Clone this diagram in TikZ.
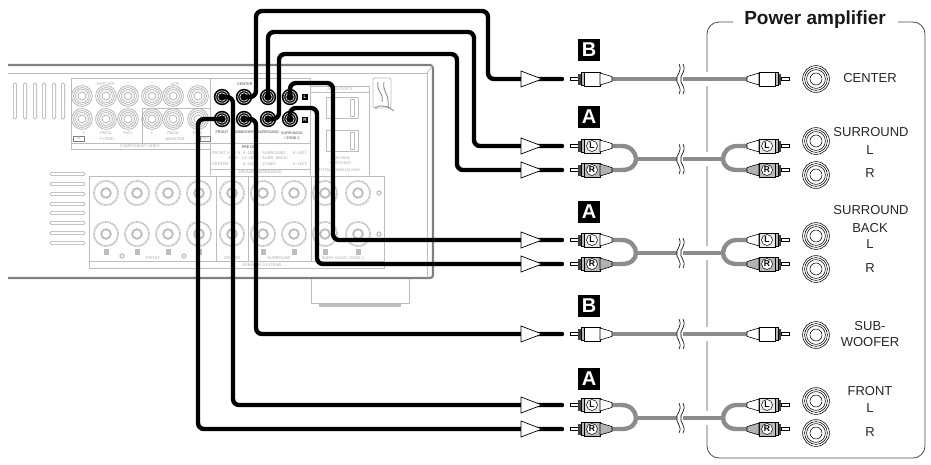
\documentclass[tikz,border=0pt]{standalone}
\usepackage{fontspec}
\usetikzlibrary{calc}
\setmainfont{Liberation Sans}
\definecolor{pl}{gray}{0.74}
\definecolor{pd}{gray}{0.5}
\definecolor{ptxt}{gray}{0.66}
\definecolor{cab}{gray}{0.55}
\tikzset{
 x=1pt,y=-1pt,
 panel/.style={draw=pl,line width=0.8pt},
 heavy/.style={draw=pd,line width=2.2pt},
 slot/.style={draw=pd!70,line width=0.6pt,rounded corners=1.4pt},
 wire/.style={draw=black,line width=4.4pt,rounded corners=6pt,line cap=round},
 cable/.style={draw=cab,line width=4.4pt},
 tiny/.style={text=ptxt,font=\fontsize{4}{5}\selectfont,inner sep=0pt,align=center},
 dark/.style={text=black!75,font=\fontsize{3.7}{4.6}\selectfont,inner sep=0pt,align=center},
 badge/.style={fill=black,text=white,font=\fontsize{20}{20}\selectfont\bfseries,minimum width=22pt,minimum height=22pt,inner sep=0pt},
 lab/.style={font=\fontsize{13}{14}\selectfont,inner sep=0pt,text=black!85},
 circ/.style={circle,draw=black,fill=white,line width=0.5pt,inner sep=0pt,minimum size=11pt,font=\fontsize{8.5}{8.5}\selectfont\bfseries},
 pics/rca/.style 2 args={code={
   \draw[black,line width=.6pt,fill=white] (0,-1.6) rectangle (8,1.6);
   \fill[black!75] (8,-5.5) rectangle (11,5.5);
   \draw[black,line width=.6pt,fill=gray!55] (11,-6.5) rectangle (14,6.5);
   \draw[black,line width=.6pt,fill=#1] (14,-7) rectangle (30,7);
   \draw[black,line width=.6pt,fill=#2] (30,-6) -- (42,-2.4) -- (42,2.4) -- (30,6) -- cycle;
 }},
 pics/brk/.style={code={
   \fill[white] (-3,-9) rectangle (3,9);
   \draw[black,line width=.6pt] (-1,-15) .. controls (3,-7) and (-5,-3) .. (-3,0) .. controls (-5,4) and (3,8) .. (-1,15);
   \draw[black,line width=.6pt] (3,-15) .. controls (7,-7) and (-1,-3) .. (1,0) .. controls (-1,4) and (7,8) .. (3,15);
 }},
}
\newcommand{\ampjack}[2]{\foreach \r in {13.4,11.4,9.4,6}{\draw[black,line width=.55pt] (#1,#2) circle (\r);}}
\newcommand{\vidjack}[2]{\foreach \r in {10.4,8.4,6.4,4}{\draw[gray!62,line width=.75pt] (#1,#2) circle (\r);}}
\newcommand{\spkjack}[2]{\draw[pl,line width=1.3pt,densely dotted] (#1,#2) circle (12.5);\draw[pl,line width=.5pt] (#1,#2) circle (11.6);\draw[pl,line width=1.9pt] (#1,#2) circle (4.8);}
\begin{document}
\begin{tikzpicture}
\useasboundingbox (0,0) rectangle (931,464);
% ---- rear panel
\draw[heavy,rounded corners=3pt] (8,278) -- (433,278) -- (433,65) -- (8,65);
\draw[panel] (8,73) -- (427,73) -- (427,278);
\draw[panel] (427,73) -- (433,65);
\foreach \x in {15,25,35,44,54,63}{\draw[slot] (\x-1.7,83) rectangle (\x+1.7,119);}
\foreach \y in {174,184,194,204,213,223,233,243}{\draw[slot] (50,\y-1.6) rectangle (85,\y+1.6);}
% component video
\draw[panel] (71,78) -- (310,78) -- (310,175);
\draw[panel] (71,78) -- (71,149) -- (210,149);
\draw[panel] (71,143) -- (210,143);
\draw[panel] (210,78) -- (210,175);
\draw[panel] (142,143) -- (142,108) -- (210,108);
\foreach \x in {82,106,128,152,173,198}{\vidjack{\x}{96}\vidjack{\x}{119}}
\node[tiny] (t1) at (106,84) {DVD VDP};
\node[tiny] (t2) at (175,84) {VCR};
\node[tiny] (t3) at (84,133) {Y};
\node[tiny] (t4) at (106,133) {Pb/Cb};
\node[tiny] (t5) at (128,133) {Pr/Cr};
\node[tiny] (t6) at (152,133) {Y};
\node[tiny] (t7) at (173,133) {Pb/Cb};
\node[tiny] (t8) at (198,133) {Pr/Cr};
\node[tiny] (t9) at (107,139) {TV/DVD};
\node[tiny] (t10) at (175,139) {MONITOR};
\node[tiny] (t11) at (140,146) {COMPONENT VIDEO};
\draw[pd,line width=.6pt] (73,136) rectangle (84,141);
\node[tiny] (t12) at (78.5,138.5) {IN};
\draw[pd,line width=.6pt] (200,136) rectangle (210,141);
\node[tiny] (t13) at (205,138.5) {OUT};
% preout text
\draw[panel] (210,143) -- (310,143);
\draw[panel] (210,169) -- (310,169);
\node[dark] (t14) at (250,147) {PRE OUT};
\node[tiny,anchor=west] (t15) at (212,153) {FRONT A OR B};
\node[tiny,anchor=west] (t16) at (228,158) {A + B};
\node[tiny,anchor=west] (t17) at (212,164) {CENTER};
\foreach \y/\v in {153/6\textasciitilde 16,158/12\textasciitilde 16,164/6\textasciitilde 16}{\node[tiny] at (250,\y) {\v$\Omega$};}
\node[tiny,anchor=west] (t18) at (262,153) {SURROUND};
\node[tiny,anchor=west] (t19) at (262,158) {SURR. BACK/};
\node[tiny,anchor=west] (t20) at (262,164) {ZONE2};
\foreach \y in {153,164}{\node[tiny] at (300,\y) {6\textasciitilde 16$\Omega$};}
\node[tiny] (t21) at (260,172.5) {SPEAKER IMPEDANCE};
% outlets
\draw[panel] (310,86) -- (369,86) -- (369,175);
\draw[panel] (310,92) -- (369,92);
\node[tiny] (t22) at (340,89.5) {AC OUTLETS};
\draw[panel] (326,97) rectangle (358,118);
\draw[panel] (350,99) rectangle (354,116);
\draw[panel] (326,130) rectangle (358,151);
\draw[panel] (350,132) rectangle (354,149);
\node[tiny] (t23) at (340,158) {120V 60Hz};
\node[tiny] (t24) at (340,163.5) {SWITCHED};
\node[tiny] (t25) at (340,170) {TOTAL 100W(1A) MAX.};
% logo
\draw[pl,line width=.8pt,rounded corners=1.5pt] (373,78) -- (391,78) -- (391,108) -- (373,108) -- cycle;
\draw[pd,line width=.8pt] (378,82) .. controls (376,92) and (384,92) .. (382,102) (384,82) .. controls (382,92) and (390,94) .. (388,108) (375,108) .. controls (380,104) and (388,106) .. (394,111);
% speakers
\draw[panel] (89,176) rectangle (384,268);
\draw[panel] (89,261) -- (384,261);
\foreach \x in {216,248,311}{\draw[panel] (\x,176) -- (\x,261);}
\foreach \x in {106,137,168,199,232,263,294,325,358}{\spkjack{\x}{193}\spkjack{\x}{234}}
\foreach \x in {106,137,168,199,263,294,325,358}{\fill[pl] (\x-2.5,249) rectangle (\x+2.5,255);}
\foreach \x/\y in {122/256,184/256,379/193,379/234}{\draw[pl,line width=1.2pt] (\x,\y) circle (2);}
\node[tiny] (t26) at (153,258) {FRONT};
\node[tiny] (t27) at (232,258) {CENTER};
\node[tiny] (t28) at (279,258) {SURROUND};
\node[tiny] (t29) at (343,258) {SURR. BACK / ZONE 2};
\node[tiny] (t30) at (262,265) {SPEAKER SYSTEMS};
% foot
\draw[panel] (311,279) -- (311,303) -- (409,303) -- (409,279);
\fill[pl] (319,303.5) rectangle (401,306.5);
% ---- black jacks
\foreach \n/\x/\y in {fl/222/97,ce/244/97,sl/268/97,bl/290/97,fr/222/119,sw/244/119,sr/268/119,br/290/119}{
  \fill[black] (\x,\y) circle (8.2);
  \draw[white,line width=.6pt] (\x,\y) circle (6.2);
  \draw[white,line width=.6pt] (\x,\y) circle (4.2);
  \coordinate (\n) at (\x,\y);
}
\node[dark] (t31) at (245,84) {CENTER};
\node[dark] (t32) at (222,132.5) {FRONT};
\node[dark] (t33) at (244.5,132.5) {SUBWOOFER};
\node[dark] (t34) at (268,132.5) {SURROUND};
\node[dark] (t35) at (292,135.5) {SURR.BACK\\/ ZONE 2};
\node[fill=black,text=white,font=\fontsize{4.5}{5}\selectfont\bfseries,minimum size=6pt,inner sep=0pt] (mL) at (305,97) {L};
\node[fill=black,text=white,font=\fontsize{4.5}{5}\selectfont\bfseries,minimum size=6pt,inner sep=0pt] (mR) at (305,120) {R};
% ---- wires
\foreach \n/\y in {ce/79,sl/146,sr/170,bl/240,br/264,sw/334,fl/405,fr/429}{
  \coordinate (e\n) at (562,\y);
  \coordinate (tri\n) at (521,\y);
}
\draw[wire] (ce) -- (256,97) -- (256,11) -- (488,11) -- (488,79) -- (ece);
\draw[wire] (sl) -- (268,32) -- (474,32) -- (474,146) -- (esl);
\draw[wire] (sr) -- (279,119) -- (279,54) -- (457,54) -- (457,170) -- (esr);
\draw[wire] (bl) -- (290,83) -- (333,83) -- (333,240) -- (ebl);
\draw[wire] (br) -- (290,108) -- (317,108) -- (317,264) -- (ebr);
\draw[wire] (sw) -- (256,119) -- (256,334) -- (esw);
\draw[wire] (fl) -- (233,97) -- (233,405) -- (efl);
\draw[wire] (fr) -- (198,119) -- (198,429) -- (efr);
\foreach \n in {ce,sl,sr,bl,br,sw,fl,fr}{
  \draw[black,fill=white,line width=.7pt] ($(tri\n)+(0,-8)$) -- ($(tri\n)+(21,0)$) -- ($(tri\n)+(0,8)$) -- cycle;
}
% ---- power amplifier box
\draw[black!70,line width=.8pt,rounded corners=12pt] (733,22) -- (707,22) -- (707,458) -- (925,458) -- (925,22) -- (898,22);
\node[inner sep=0pt,font=\fontsize{19}{20}\selectfont\bfseries,text=black!90] (title) at (815,20) {Power amplifier};
% ---- cables
\newcommand{\stereo}[3]{% ytop, ybot, ytrunk
  \coordinate (a) at (612,#1); \coordinate (b) at (612,#2);
  \coordinate (c) at (636,#3); \coordinate (d) at (723,#3);
  \coordinate (e) at (747,#1); \coordinate (f) at (747,#2);
  \fill[white] (703,#3-7) rectangle (711,#3+7);
  \draw[cable] (a) -- (622,#1) .. controls (631,#1) and (636,#3-6) .. (636,#3) .. controls (636,#3+6) and (631,#2) .. (622,#2) -- (b);
  \draw[cable] (c) -- (d);
  \draw[cable] (e) -- (737,#1) .. controls (728,#1) and (723,#3-6) .. (723,#3) .. controls (723,#3+6) and (728,#2) .. (737,#2) -- (f);
  \pic at (680,#3) {brk};
  \pic at (570,#1) {rca={gray!18}{white}};
  \pic at (570,#2) {rca={gray!55}{gray!60}};
  \pic[xscale=-1] at (789,#1) {rca={gray!18}{white}};
  \pic[xscale=-1] at (789,#2) {rca={gray!55}{gray!60}};
  \node[circ] at (592,#1) {L};
  \node[circ] at (592,#2) {R};
  \node[circ] at (767,#1) {L};
  \node[circ] at (767,#2) {R};
}
\newcommand{\mono}[1]{%
  \coordinate (a) at (612,#1); \coordinate (b) at (747,#1);
  \fill[white] (703,#1-7) rectangle (711,#1+7);
  \draw[cable] (a) -- (b);
  \pic at (680,#1) {brk};
  \pic at (570,#1) {rca={white}{white}};
  \pic[xscale=-1] at (789,#1) {rca={white}{white}};
}
\mono{79}
\stereo{146}{170}{159}
\stereo{240}{264}{253}
\mono{334}
\stereo{405}{429}{418}
% badges
\node[badge] (b1) at (589,50) {B};
\node[badge] (a1) at (589,117) {A};
\node[badge] (a2) at (589,212) {A};
\node[badge] (b2) at (589,306) {B};
\node[badge] (a3) at (589,379) {A};
% amp jacks
\foreach \y in {79,141,175,236,269,335,401,433}{\ampjack{816}{\y}}
\node[lab] (l1) at (870,78) {CENTER};
\node[lab] (l2) at (871,132) {SURROUND};
\node[lab] (l3) at (870,150) {L};
\node[lab] (l4) at (870,173) {R};
\node[lab] (l5) at (871,210) {SURROUND};
\node[lab] (l6) at (870,228) {BACK};
\node[lab] (l7) at (870,244) {L};
\node[lab] (l8) at (870,268) {R};
\node[lab] (l9) at (870,326) {SUB-};
\node[lab] (l10) at (870,342) {WOOFER};
\node[lab] (l11) at (870,391) {FRONT};
\node[lab] (l12) at (870,408) {L};
\node[lab] (l13) at (870,432) {R};
\end{tikzpicture}
\end{document}
